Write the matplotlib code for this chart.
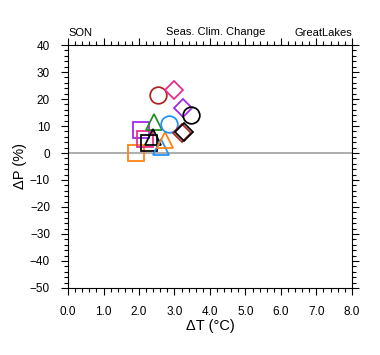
import matplotlib
matplotlib.use('agg')
import matplotlib.pyplot as plt
from matplotlib.ticker import MultipleLocator

# seasonal climate change, GreatLakes, SON
d_temp = [1.92, 2.06, 2.18, 2.29, 2.43, 2.40, 2.62, 2.73, 2.85, 2.54, 2.99, 3.25, 3.46, 3.20, 3.27]
d_prec = [0.1, 8.5, 5.1, 3.8, 11.6, 6.0, 2.1, 4.8, 10.6, 21.5, 23.3, 16.5, 14.0, 7.3, 7.9]
x_ticks = [0, 1, 2, 3, 4, 5, 6, 7, 8]
y_ticks = [40, 30, 20, 10, 0, -10, -20, -30, -40, -50]

markers = ['s', 's', 's', 's', '^', '^', '^', '^', 'o', 'o', 'D', 'D', 'o', 'D', 'D']
colors = ['#ff7f0e', '#a020f0', '#e8288a', 'black', '#228b22', 'black', '#1e90ff', '#ff7f0e',
          '#1e90ff', '#b22222', '#e8288a', '#a020f0', 'black', '#b22222', 'black']
sizes = {'s': 11.8, '^': 11.8, 'o': 12, 'D': 9}

plt.rcParams['font.family'] = ['Liberation Sans', 'DejaVu Sans']
fig = plt.figure(figsize=(3.8, 3.55), dpi=100)
ax = fig.add_axes([0.179, 0.189, 0.747, 0.684])

ax.axhline(0, color='#a0a0a0', lw=1.2, zorder=1)
for x, y, m, c in zip(d_temp, d_prec, markers, colors):
    ax.plot(x, y, marker=m, ms=sizes[m], mfc='none', mec=c, mew=1.25, ls='none', zorder=3)

ax.set_xlim(0, 8)
ax.set_ylim(-50, 40)
ax.set_xticks(x_ticks)
ax.set_xticklabels([f'{v:.1f}' for v in x_ticks])
ax.set_yticks(y_ticks)
ax.xaxis.set_minor_locator(MultipleLocator(0.2))
ax.yaxis.set_minor_locator(MultipleLocator(2))
ax.tick_params(which='major', direction='out', length=5, width=0.8, labelsize=8.5,
               top=True, right=True, pad=8)
ax.tick_params(which='minor', direction='out', length=3, width=0.8, top=True, right=True)
for s in ax.spines.values():
    s.set_linewidth(0.8)

ax.set_xlabel('ΔT (°C)', fontsize=10.5, labelpad=1)
ax.set_ylabel('ΔP (%)', fontsize=10.5, labelpad=2)

ax.text(0.0, 1.03, 'SON', transform=ax.transAxes, fontsize=8, ha='left', va='bottom')
ax.text(0.52, 1.035, 'Seas. Clim. Change', transform=ax.transAxes, fontsize=8, ha='center', va='bottom')
ax.text(1.0, 1.03, 'GreatLakes', transform=ax.transAxes, fontsize=8, ha='right', va='bottom')

plt.savefig('out.png', dpi=100)
